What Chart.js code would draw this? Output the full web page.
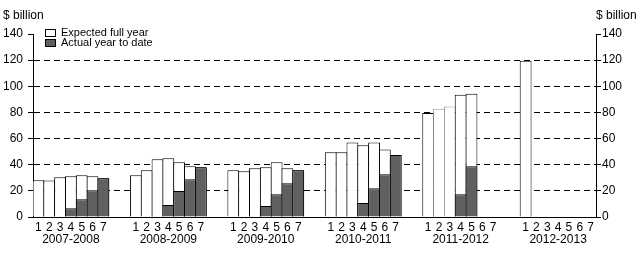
<!DOCTYPE html>
<html>
<head>
<meta charset="utf-8">
<script src="https://cdn.jsdelivr.net/npm/chart.js@4"></script>
<style>
  body { margin: 0; background: #fff; }
  canvas { display: block; }
</style>
</head>
<body>
<canvas id="chart" width="642" height="258"></canvas>
<script>
// Datos ($ billion)
const years = ["2007-2008", "2008-2009", "2009-2010", "2010-2011", "2011-2012", "2012-2013"];
const months = ["1", "2", "3", "4", "5", "6", "7"];

const expected0708 = [28.2, 28, 30.4, 31.2, 32, 31.2, 29.7];
const expected0809 = [32, 35.8, 44.1, 44.9, 41.8, 38.8, 38];
const expected0910 = [35.8, 35, 37.3, 38, 41.8, 37.3, 35.8];
const expected1011 = [49.5, 49.5, 57, 54.8, 57, 51.7, 47.4];
const expected1112 = [79.6, 82.9, 84.5, 93.6, 94.3, null, null];
const expected1213 = [119.5, null, null, null, null, null, null];

const actual0708 = [null, null, null, 6.6, 13.6, 20.5, 29.7];
const actual0809 = [null, null, null, 9.1, 19.8, 28.9, 38];
const actual0910 = [null, null, null, 8.4, 17.5, 25.9, 35.8];
const actual1011 = [null, null, null, 10.7, 22, 32.7, 47.4];
const actual1112 = [null, null, null, 17.5, 38.8, null, null];
const actual1213 = [null, null, null, null, null, null, null];

const yTicks = [0, 20, 40, 60, 80, 100, 120, 140];

const expectedByYear = [expected0708, expected0809, expected0910, expected1011, expected1112, expected1213];
const actualByYear = [actual0708, actual0809, actual0910, actual1011, actual1112, actual1213];

// Construir categorías: 7 barras por año + 2 huecos entre años
const labels = [];
const expectedData = [];
const actualData = [];
years.forEach((year, g) => {
  months.forEach((m, i) => {
    labels.push(i === 3 ? [m, year] : m);
    expectedData.push(expectedByYear[g][i]);
    actualData.push(actualByYear[g][i]);
  });
  if (g < years.length - 1) {
    for (let k = 0; k < 2; k++) {
      labels.push("");
      expectedData.push(null);
      actualData.push(null);
    }
  }
});

// barras 2 y 3 de 2011-2012 con borde gris
const greyStart = 4 * 9;
const greyIdx = new Set([greyStart + 1, greyStart + 2]);

const FONT = "'Liberation Sans', Arial, sans-serif";
const DARK = "#606060";
const slotW = 563 / labels.length;
const barPct = 1 + 1 / slotW; // solapar 1px para que los bordes coincidan

const extras = {
  id: "extras",
  afterDraw(chart) {
    const ctx = chart.ctx;
    ctx.save();
    // títulos de ejes
    ctx.fillStyle = "#000";
    ctx.font = "12px " + FONT;
    ctx.textBaseline = "middle";
    ctx.textAlign = "left";
    ctx.fillText("$ billion", 3, 15.5);
    ctx.fillText("$ billion", 596, 15.5);
    // leyenda
    const items = [
      { label: chart.data.datasets[1].label, fill: "#fff" },
      { label: chart.data.datasets[0].label, fill: DARK }
    ];
    ctx.font = "11px " + FONT;
    items.forEach((it, i) => {
      const y = 29 + i * 10;
      ctx.fillStyle = it.fill;
      ctx.fillRect(45.5, y + 0.5, 10, 7);
      ctx.strokeStyle = "#000";
      ctx.lineWidth = 1;
      ctx.strokeRect(45.5, y + 0.5, 10, 7);
      ctx.fillStyle = "#000";
      ctx.fillText(it.label, 61, y + 4);
    });
    ctx.restore();
  }
};

new Chart(document.getElementById("chart"), {
  type: "bar",
  data: {
    labels: labels,
    datasets: [
      {
        label: "Actual year to date",
        data: actualData,
        backgroundColor: DARK,
        borderColor: "#000",
        borderWidth: 1,
        grouped: false,
        barPercentage: barPct,
        categoryPercentage: 1,
        order: 0,
        yAxisID: "y"
      },
      {
        label: "Expected full year",
        data: expectedData,
        backgroundColor: "#fff",
        borderColor: ctx => greyIdx.has(ctx.dataIndex) ? "#9a9a9a" : "#000",
        borderWidth: 1,
        grouped: false,
        barPercentage: barPct,
        categoryPercentage: 1,
        order: 1,
        yAxisID: "y"
      }
    ]
  },
  options: {
    responsive: false,
    animation: false,
    layout: { padding: { top: 34, left: 0, right: 0, bottom: 0 } },
    plugins: {
      legend: { display: false },
      tooltip: { enabled: false }
    },
    scales: {
      x: {
        offset: true,
        grid: { display: false, drawTicks: false },
        border: { display: true, color: "#000", width: 1 },
        ticks: {
          autoSkip: false,
          maxRotation: 0,
          minRotation: 0,
          padding: 4,
          color: "#000",
          font: { family: FONT, size: 12, lineHeight: 1.05 }
        },
        afterFit(scale) { scale.height = 41; }
      },
      y: {
        position: "left",
        min: 0,
        max: 140,
        ticks: {
          stepSize: 10,
          padding: 5,
          color: "#000",
          font: { family: FONT, size: 12 },
          callback: v => yTicks.includes(v) ? v : ""
        },
        grid: {
          color: ctx => (ctx.tick && ctx.tick.value > 0 && ctx.tick.value < 140 && ctx.tick.value % 20 === 0) ? "#000" : "rgba(0,0,0,0)",
          tickColor: "#000",
          tickLength: 5,
          lineWidth: 1
        },
        border: { display: true, color: "#000", width: 1, dash: [6, 4] },
        afterFit(scale) { scale.width = 33; }
      },
      y1: {
        position: "right",
        min: 0,
        max: 140,
        ticks: {
          stepSize: 10,
          padding: 1,
          color: "#000",
          font: { family: FONT, size: 12 },
          callback: v => yTicks.includes(v) ? v : ""
        },
        grid: {
          drawOnChartArea: false,
          tickColor: "#000",
          tickLength: 5
        },
        border: { display: true, color: "#000", width: 1 },
        afterFit(scale) { scale.width = 46; }
      }
    }
  },
  plugins: [extras]
});
</script>
</body>
</html>
